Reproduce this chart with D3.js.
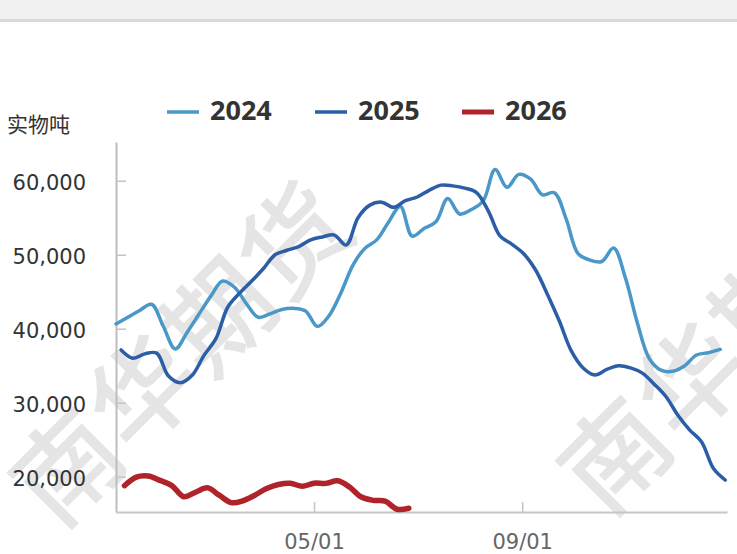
<!DOCTYPE html>
<html>
<head>
<meta charset="utf-8">
<script src="https://cdn.jsdelivr.net/npm/d3@7/dist/d3.min.js"></script>
<style>
  html, body { margin: 0; padding: 0; background: #ffffff; }
  svg { display: block; }
</style>
</head>
<body>
<svg id="chart" width="737" height="554"></svg>
<script>
// ---- data (weekly values) ----
const seriesNames = ["2024", "2025", "2026"];
const seriesColors = ["#4a98c7", "#2b5ea6", "#b0232b"];
const seriesStart = ["01-04", "01-07", "01-09"];   // month-day of first weekly point
const values2024 = [40640, 41550, 42470, 43300, 40300, 37250, 39500, 41950, 44400, 46450,
  45600, 43400, 41550, 42000, 42600, 42750, 42400, 40300, 41800, 44900,
  48600, 50850, 52000, 54400, 56500, 52500, 53550, 54450, 57600, 55500,
  56100, 57300, 61500, 59100, 60850, 60200, 58100, 58380, 54800, 50150,
  49280, 49080, 50900, 46850, 40800, 36000, 34400, 34250, 35000, 36450,
  36750, 37200];
const values2025 = [37130, 36000, 36600, 36700, 33600, 32700, 33700, 36400, 38650, 42900,
  44800, 46400, 48100, 50000, 50600, 51100, 52000, 52400, 52650, 51300,
  55000, 56700, 57100, 56400, 57300, 57800, 58700, 59400, 59300, 59000,
  58400, 55900, 52500, 51400, 50100, 47900, 44600, 41000, 37000, 34700,
  33750, 34500, 35000, 34700, 34000, 32500, 30800, 28300, 26300, 24700,
  21100, 19550];
const values2026 = [18790, 19950, 20100, 19500, 18800, 17300, 17900, 18500, 17500, 16500,
  16750, 17500, 18400, 18950, 19120, 18700, 19120, 19100, 19450, 18600,
  17250, 16800, 16700, 15600, 15740];
const yTicks = [20000, 30000, 40000, 50000, 60000];
const xTicks = ["05-01", "09-01"];
const yUnit = "实物吨";
const watermark = "南华期货";

(function () {
// ---- setup ----
const baseYear = 2001;
const parseMD = md => d3.timeParse("%Y-%m-%d")(baseYear + "-" + md);
const svg = d3.select("#chart");
const W = 737, H = 554;
const mLeft = 116, mRight = 727, mTop = 142, mBottom = 512;

const x = d3.scaleTime()
  .domain([parseMD("01-04"), parseMD("12-31")])
  .range([mLeft, mRight]);
const y = d3.scaleLinear()
  .domain([15230, 65230])
  .range([mBottom, mTop]);

// top header bar
svg.append("rect").attr("x", 0).attr("y", 0).attr("width", W).attr("height", 19).attr("fill", "#f1f1f1");
svg.append("rect").attr("x", 0).attr("y", 19).attr("width", W).attr("height", 3).attr("fill", "#d9d9d9");

// watermarks
const wm = [[177, 348], [725, 336]];
wm.forEach(([cx, cy]) => {
  svg.append("text")
    .attr("transform", `translate(${cx},${cy}) rotate(-45)`)
    .attr("text-anchor", "middle")
    .attr("dominant-baseline", "central")
    .attr("font-family", "'Noto Sans CJK SC', sans-serif")
    .attr("font-size", 104)
    .attr("letter-spacing", 3)
    .attr("fill", "#e5e5e5")
    .attr("stroke", "#e5e5e5")
    .attr("stroke-width", 2)
    .text(watermark);
});

// y axis
const yAxis = d3.axisLeft(y)
  .tickValues(yTicks)
  .tickFormat(d3.format(","))
  .tickSizeInner(-10)
  .tickSizeOuter(0)
  .tickPadding(30);
const gy = svg.append("g").attr("transform", `translate(${mLeft},0)`).call(yAxis);
gy.select(".domain").attr("stroke", "#bdbdbd").attr("stroke-width", 2);
gy.selectAll(".tick line").attr("stroke", "#c4c4c4").attr("stroke-width", 1.5);
gy.selectAll(".tick text")
  .attr("font-family", "'DejaVu Sans', sans-serif")
  .attr("font-size", 21)
  .attr("fill", "#333333")
  .attr("dy", "0.42em");

// x axis
const xAxis = d3.axisBottom(x)
  .tickValues(xTicks.map(parseMD))
  .tickFormat(d3.timeFormat("%m/%d"))
  .tickSizeInner(-10)
  .tickSizeOuter(0)
  .tickPadding(22);
const gx = svg.append("g").attr("transform", `translate(0,${mBottom})`).call(xAxis);
gx.select(".domain").attr("stroke", "#c6c6c6").attr("stroke-width", 2);
gx.selectAll(".tick line").attr("stroke", "#c4c4c4").attr("stroke-width", 1.5);
gx.selectAll(".tick text")
  .attr("font-family", "'DejaVu Sans', sans-serif")
  .attr("font-size", 21)
  .attr("fill", "#666666");

// unit label
svg.append("text")
  .attr("x", 7).attr("y", 132)
  .attr("font-family", "'Noto Sans CJK SC', sans-serif")
  .attr("font-size", 21)
  .attr("fill", "#333333")
  .text(yUnit);

// lines
const allValues = [values2024, values2025, values2026];
const widths = [3.5, 3.5, 5.5];
const line = d3.line()
  .x(d => x(d.date))
  .y(d => y(d.value))
  .curve(d3.curveCatmullRom.alpha(0.5));
allValues.forEach((vals, s) => {
  const start = parseMD(seriesStart[s]);
  const data = vals.map((v, i) => ({ date: d3.timeDay.offset(start, 7 * i), value: v }));
  svg.append("path")
    .datum(data)
    .attr("fill", "none")
    .attr("stroke", seriesColors[s])
    .attr("stroke-width", widths[s])
    .attr("stroke-linejoin", "round")
    .attr("stroke-linecap", "round")
    .attr("d", line);
});

// legend
const legendX = [167, 315, 462];
seriesNames.forEach((name, s) => {
  const g = svg.append("g").attr("transform", `translate(${legendX[s]},112)`);
  g.append("line")
    .attr("x1", 0).attr("x2", 32).attr("y1", 0).attr("y2", 0)
    .attr("stroke", seriesColors[s])
    .attr("stroke-width", s === 2 ? 5 : 3.5);
  g.append("text")
    .attr("x", 43).attr("y", 8)
    .attr("font-family", "'Noto Sans', sans-serif")
    .attr("font-weight", "bold")
    .attr("font-size", 27)
    .attr("fill", "#333333")
    .text(name);
});
})();
</script>
</body>
</html>
